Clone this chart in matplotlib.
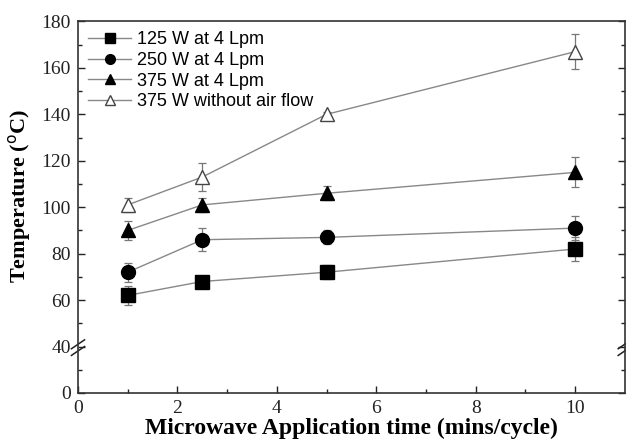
import matplotlib
matplotlib.use("Agg")
import matplotlib.pyplot as plt
import numpy as np
from matplotlib.ticker import FixedLocator

# data
times = [1, 2.5, 5, 10]
labels = ["125 W at 4 Lpm", "250 W at 4 Lpm", "375 W at 4 Lpm", "375 W without air flow"]
t125 = [62, 68, 72, 82]
e125 = [4, 1, 3, 5]
t250 = [72, 86, 87, 91]
e250 = [4, 5, 3, 5]
t375 = [90, 101, 106, 115]
e375 = [4, 3, 3, 6.5]
t375_noair = [101, 113, 140, 167]
e375_noair = [3, 6, 1, 7.5]

BREAK = 40.0
LOW = 0.5  # compression of the part below the break

def forward(y):
    y = np.asarray(y, dtype=float)
    return np.where(y < BREAK, y * LOW, BREAK * LOW + (y - BREAK))

def inverse(p):
    p = np.asarray(p, dtype=float)
    return np.where(p < BREAK * LOW, p / LOW, p - BREAK * LOW + BREAK)

fig = plt.figure(figsize=(6.26, 4.43), dpi=100)
ax = fig.add_axes([0.1246, 0.113, 0.8734, 0.8385])
ax.set_yscale("function", functions=(forward, inverse))

series = [(t125, e125, "s", "k"), (t250, e250, "o", "k"),
          (t375, e375, "^", "k"), (t375_noair, e375_noair, "^", "white")]
for (vals, errs, mk, fc), lab in zip(series, labels):
    ax.errorbar(times, vals, yerr=errs, fmt="none", ecolor="#777777",
                elinewidth=0.9, capsize=3, capthick=0.9, zorder=2)
    ax.plot(times, vals, color="#888888", lw=1.0, marker=mk, ms=10,
            mfc=fc, mec="black" if fc == "k" else "#444444", mew=1.0,
            label=lab, zorder=3)

ax.set_xlim(0, 11)
ax.set_ylim(0, 180)
ax.set_xticks([0, 2, 4, 6, 8, 10])
ax.xaxis.set_minor_locator(FixedLocator([1, 3, 5, 7, 9]))
ax.yaxis.set_major_locator(FixedLocator([0, 40, 60, 80, 100, 120, 140, 160, 180]))
ax.yaxis.set_minor_locator(FixedLocator([20, 50, 70, 90, 110, 130, 150, 170]))
ax.yaxis.set_major_formatter(plt.FuncFormatter(lambda v, p: "%d" % v))
ax.yaxis.set_minor_formatter(plt.NullFormatter())

ax.tick_params(which="both", direction="in", right=True, top=False,
               labelsize=14, width=1.0, colors="#222222", pad=5)
ax.tick_params(which="major", length=5)
ax.tick_params(which="minor", length=3)
for lab in ax.get_xticklabels() + ax.get_yticklabels():
    lab.set_family("Liberation Serif")
for s in ax.spines.values():
    s.set_linewidth(1.2)
    s.set_color("#333333")

# break marks on both spines
yb = float(forward(BREAK)) / 160.0
for xb in (0.0, 1.0):
    for dy in (-0.012, 0.006):
        ax.plot([xb - 0.012, xb + 0.012], [yb + dy - 0.012, yb + dy + 0.012],
                transform=ax.transAxes, color="#222222", lw=1.1, clip_on=False)

ax.set_xlabel("Microwave Application time (mins/cycle)", fontsize=17,
              fontweight="bold", family="Liberation Serif", labelpad=1)
ax.set_ylabel("Temperature ($^{\\rm o}$C)", fontsize=16, fontweight="bold",
              family="Liberation Serif")
ax.yaxis.set_label_coords(-0.082, 0.53)

leg = ax.legend(loc="upper left", frameon=False,
                prop={"family": "Liberation Sans", "size": 13},
                handlelength=2.4, handletextpad=0.3, labelspacing=0.2,
                borderaxespad=0.15, markerscale=0.7)

fig.savefig("out.png", dpi=100)
